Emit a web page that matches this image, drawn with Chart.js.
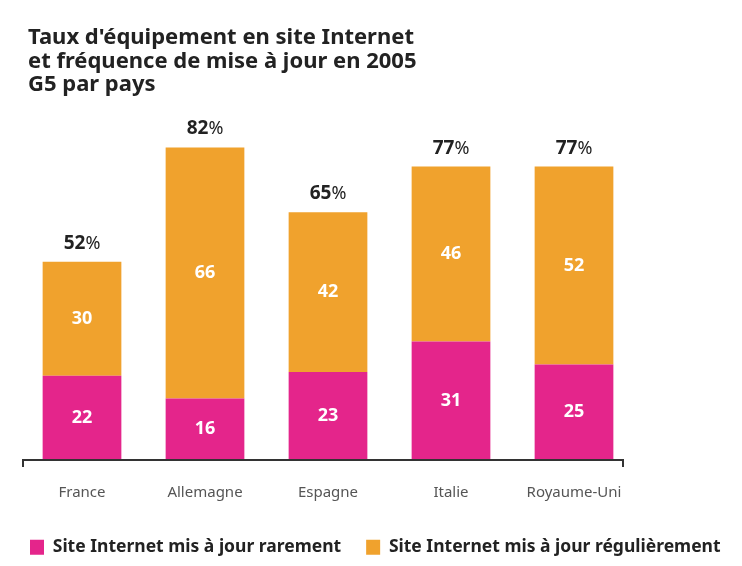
<!DOCTYPE html>
<html>
<head>
<meta charset="utf-8">
<script src="https://cdn.jsdelivr.net/npm/chart.js@4.4.1/dist/chart.umd.min.js"></script>
<style>
    html, body { margin: 0; padding: 0; background: #fff; overflow: hidden; }
    #wrap { width: 742px; height: 566px; }
</style>
</head>
<body>
<div id="wrap"><canvas id="equipChart"></canvas></div>
<script>
// Data
const countries = ['France', 'Allemagne', 'Espagne', 'Italie', 'Royaume-Uni'];
const rarely = [22, 16, 23, 31, 25];
const regularly = [30, 66, 42, 46, 52];
const totals = [52, 82, 65, 77, 77];
const titleLines = [
    'Taux d\'équipement en site Internet',
    'et fréquence de mise à jour en 2005',
    'G5 par pays'
];

const PINK = '#e4258b';
const ORANGE = '#f0a22d';
const FONT = '"Noto Sans", "Open Sans", sans-serif';

// Title block, top left
const chartTitle = {
    id: 'chartTitle',
    afterDraw(chart) {
        const ctx = chart.ctx;
        ctx.save();
        ctx.fillStyle = '#222';
        ctx.font = 'bold 22px ' + FONT;
        ctx.textAlign = 'left';
        ctx.textBaseline = 'alphabetic';
        titleLines.forEach((line, i) => {
            ctx.fillText(line, 28, 44 + i * 23.5);
        });
        ctx.restore();
    }
};

// White values inside each segment
const segmentLabels = {
    id: 'segmentLabels',
    afterDatasetsDraw(chart) {
        const ctx = chart.ctx;
        ctx.save();
        ctx.fillStyle = '#fff';
        ctx.font = 'bold 18px ' + FONT;
        ctx.textAlign = 'center';
        ctx.textBaseline = 'middle';
        chart.data.datasets.forEach((ds, i) => {
            chart.getDatasetMeta(i).data.forEach((bar, j) => {
                const mid = (bar.y + bar.base) / 2;
                ctx.fillText(ds.data[j], bar.x, mid);
            });
        });
        ctx.restore();
    }
};

// Totals above the stacks + the baseline with turned-down ends
const totalLabels = {
    id: 'totalLabels',
    afterDatasetsDraw(chart) {
        const ctx = chart.ctx;
        const y = chart.scales.y;
        const area = chart.chartArea;
        ctx.save();
        ctx.fillStyle = '#222';
        ctx.textBaseline = 'alphabetic';
        ctx.textAlign = 'left';
        const meta = chart.getDatasetMeta(1);
        meta.data.forEach((bar, j) => {
            const num = String(totals[j]);
            ctx.font = 'bold 19px ' + FONT;
            const wNum = ctx.measureText(num).width;
            ctx.font = '18px ' + FONT;
            const wPct = ctx.measureText('%').width;
            const x0 = bar.x - (wNum + wPct) / 2;
            const ty = y.getPixelForValue(totals[j]) - 13;
            ctx.font = 'bold 19px ' + FONT;
            ctx.fillText(num, x0, ty);
            ctx.font = '18px ' + FONT;
            ctx.fillText('%', x0 + wNum, ty);
        });

        // axis line
        const base = y.getPixelForValue(0) + 0.5;
        ctx.strokeStyle = '#333';
        ctx.lineWidth = 2;
        ctx.beginPath();
        ctx.moveTo(area.left + 2.5, base + 7);
        ctx.lineTo(area.left + 2.5, base);
        ctx.lineTo(area.right - 12.5, base);
        ctx.lineTo(area.right - 12.5, base + 7);
        ctx.stroke();
        ctx.restore();
    }
};

new Chart(document.getElementById('equipChart'), {
    type: 'bar',
    data: {
        labels: countries,
        datasets: [
            {
                label: 'Site Internet mis à jour rarement',
                data: rarely,
                backgroundColor: PINK,
                borderWidth: 0,
                barPercentage: 0.8,
                categoryPercentage: 0.8
            },
            {
                label: 'Site Internet mis à jour régulièrement',
                data: regularly,
                backgroundColor: ORANGE,
                borderWidth: 0,
                barPercentage: 0.8,
                categoryPercentage: 0.8
            }
        ]
    },
    options: {
        responsive: true,
        maintainAspectRatio: false,
        animation: false,
        layout: {
            // negative right so the legend fits on one row
            padding: { left: 5, right: -30, top: 79, bottom: 0 }
        },
        plugins: {
            title: { display: false },
            legend: {
                position: 'bottom',
                align: 'start',
                labels: {
                    color: '#222',
                    font: { family: FONT, size: 17.5, weight: 'bold' },
                    boxWidth: 14,
                    boxHeight: 15,
                    padding: 25
                }
            },
            tooltip: { enabled: false }
        },
        scales: {
            x: {
                stacked: true,
                grid: { display: false },
                border: { display: false },
                ticks: {
                    color: '#555',
                    font: { family: FONT, size: 15 },
                    padding: 16
                },
                afterFit(scale) {
                    // keep the plot narrower than the legend row
                    scale.paddingLeft = 20.5;
                    scale.paddingRight = 106.5;
                    scale.height = 54;
                }
            },
            y: {
                stacked: true,
                display: false,
                min: 0,
                max: 100
            }
        }
    },
    plugins: [chartTitle, segmentLabels, totalLabels]
});
</script>
</body>
</html>
